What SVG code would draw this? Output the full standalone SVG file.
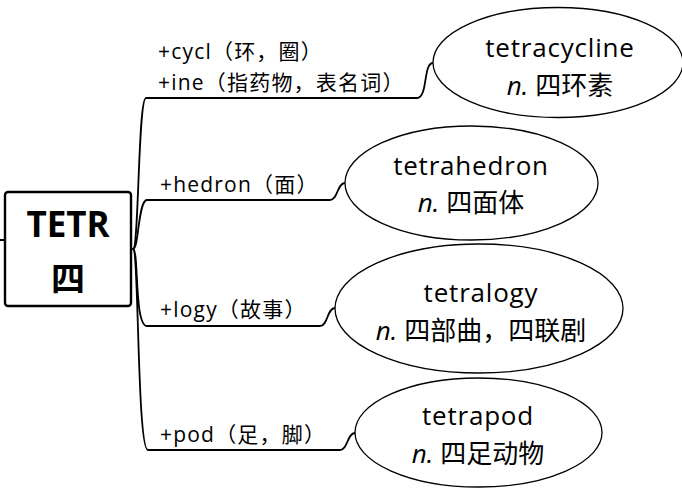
<svg xmlns="http://www.w3.org/2000/svg" width="682" height="488" viewBox="0 0 682 488">
<style>
.c{fill:none;stroke:#000;stroke-width:1.8;stroke-linecap:round}
.e{fill:#fff;stroke:#000;stroke-width:1.3}
.b{font-family:"Open Sans","Noto Sans CJK SC",sans-serif;font-size:21px;letter-spacing:1.2px;fill:#000}
.t{font-family:"Open Sans","Noto Sans CJK SC",sans-serif;font-size:26px;fill:#000;text-anchor:middle}
.w{letter-spacing:0.8px}
.i{font-style:italic}
</style>
<rect width="682" height="488" fill="#fff"/>
<g id="connectors">
<path class="c" d="M0,240 L5,240"/>
<path class="c" d="M133,249 C139,249 138,98 146,98 L417,98 C428,98 423,63 433,63"/>
<path class="c" d="M133,249 C139,249 138,200 147,200 L330,200 C338,200 337,183 345,183"/>
<path class="c" d="M133,249 C139,249 134,326 147,326 L320,326 C328,326 327,308 335,308"/>
<path class="c" d="M133,249 C139,249 137,450 148,450 L340,450 C348,450 347,433 355,433"/>
</g>
<g id="root">
<rect x="5" y="192" width="126" height="114" rx="3" fill="#fff" stroke="#000" stroke-width="2.4"/>
<text x="68" y="237" font-family="Open Sans,Noto Sans CJK SC,sans-serif" font-size="35" font-weight="bold" text-anchor="middle">TETR</text>
<text x="68" y="291" font-family="Noto Sans CJK SC,sans-serif" font-size="34" font-weight="bold" text-anchor="middle">四</text>
</g>
<g id="branch1">
<text class="b" x="158" y="59">+cycl（环，圈）</text>
<text class="b" x="158" y="90">+ine（指药物，表名词）</text>
</g>
<g id="branch2"><text class="b" x="160" y="192">+hedron（面）</text></g>
<g id="branch3"><text class="b" x="160" y="317">+logy（故事）</text></g>
<g id="branch4"><text class="b" x="160" y="442">+pod（足，脚）</text></g>
<g id="n1">
<ellipse class="e" cx="558" cy="62.5" rx="125" ry="55"/>
<text class="t w" x="560" y="57">tetracycline</text>
<text class="t" x="560" y="95"><tspan class="i">n.</tspan> 四环素</text>
</g>
<g id="n2">
<ellipse class="e" cx="471.5" cy="183" rx="126.5" ry="57"/>
<text class="t w" x="471" y="175">tetrahedron</text>
<text class="t" x="471" y="212"><tspan class="i">n.</tspan> 四面体</text>
</g>
<g id="n3">
<ellipse class="e" cx="479" cy="308.5" rx="144" ry="64.5"/>
<text class="t w" x="481" y="302">tetralogy</text>
<text class="t" x="481" y="340"><tspan class="i">n.</tspan> 四部曲，四联剧</text>
</g>
<g id="n4">
<ellipse class="e" cx="478.5" cy="432.5" rx="123.5" ry="54.5"/>
<text class="t w" x="478" y="425">tetrapod</text>
<text class="t" x="478" y="463"><tspan class="i">n.</tspan> 四足动物</text>
</g>
</svg>
